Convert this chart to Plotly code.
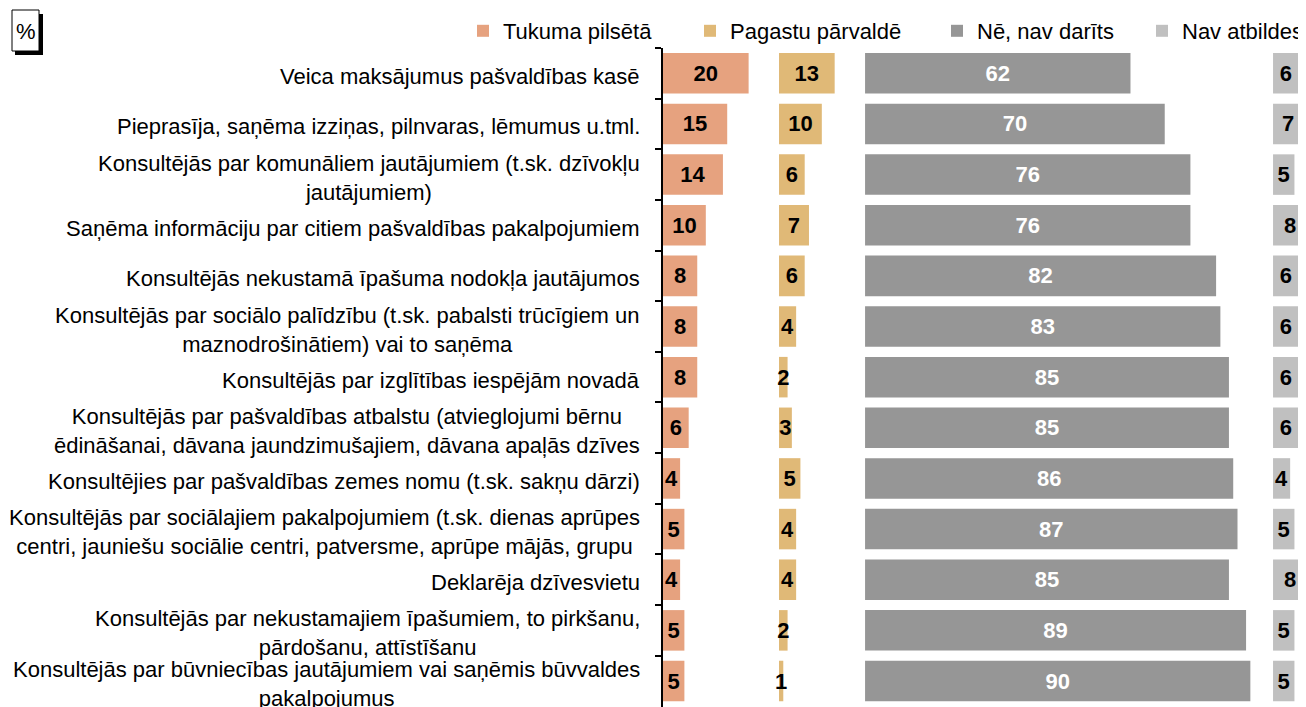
import plotly.graph_objects as go

# categories (top to bottom), text as shown in the source chart
labels = [
    "Veica maksājumus pašvaldības kasē",
    "Pieprasīja, saņēma izziņas, pilnvaras, lēmumus u.tml.",
    "Konsultējās par komunāliem jautājumiem (t.sk. dzīvokļu<br>jautājumiem)",
    "Saņēma informāciju par citiem pašvaldības pakalpojumiem",
    "Konsultējās nekustamā īpašuma nodokļa jautājumos",
    "Konsultējās par sociālo palīdzību (t.sk. pabalsti trūcīgiem un<br>maznodrošinātiem) vai to saņēma",
    "Konsultējās par izglītības iespējām novadā",
    "Konsultējās par pašvaldības atbalstu (atvieglojumi bērnu<br>ēdināšanai, dāvana jaundzimušajiem, dāvana apaļās dzīves",
    "Konsultējies par pašvaldības zemes nomu (t.sk. sakņu dārzi)",
    "Konsultējās par sociālajiem pakalpojumiem (t.sk. dienas aprūpes<br>centri, jauniešu sociālie centri, patversme, aprūpe mājās, grupu",
    "Deklarēja dzīvesvietu",
    "Konsultējās par nekustamajiem īpašumiem, to pirkšanu,<br>pārdošanu, attīstīšanu",
    "Konsultējās par būvniecības jautājumiem vai saņēmis būvvaldes<br>pakalpojumus",
]

series_names = ["Tukuma pilsētā", "Pagastu pārvaldē", "Nē, nav darīts", "Nav atbildes"]

tukuma = [20, 15, 14, 10, 8, 8, 8, 6, 4, 5, 4, 5, 5]
pagasti = [13, 10, 6, 7, 6, 4, 2, 3, 5, 4, 4, 2, 1]
ne_nav = [62, 70, 76, 76, 82, 83, 85, 85, 86, 87, 85, 89, 90]
nav_atb = [6, 7, 5, 8, 6, 6, 6, 6, 4, 5, 8, 5, 5]

# page has an 8px body margin, so the figure is drawn 8px smaller
OFF = 8
W, H = 1306 - OFF, 707 - OFF
L, T = 663 - OFF, 48 - OFF
panel_start = [0, 27.1, 47.2, 142.5]
x_max = 150.2
colors = ["#E6A27F", "#E0B977", "#969696", "#C0C0C0"]
text_colors = ["black", "black", "white", "black"]
legend_x = [463, 690, 937, 1142]   # window px of each legend box
FONT = "Liberation Sans, Arial, sans-serif"
FS = 22


def px_x(p):
    return (p - OFF - L) / (W - L)


def px_y(p):
    return 1 - (p - OFF - T) / (H - T)


fig = go.Figure()
legends = {}
for i, (name, vals, base, col, tcol) in enumerate(
        zip(series_names, [tukuma, pagasti, ne_nav, nav_atb],
            panel_start, colors, text_colors)):
    lg = "legend" if i == 0 else f"legend{i + 1}"
    fig.add_trace(go.Bar(
        y=labels, x=vals, base=base, name=name, orientation="h",
        marker=dict(color=col, line=dict(width=0)),
        text=vals, textposition="inside", insidetextanchor="middle",
        textangle=0, constraintext="none",
        textfont=dict(family=FONT, size=FS, color=tcol, weight="bold"),
        legend=lg,
    ))
    legends[lg] = dict(orientation="h", x=px_x(legend_x[i]), xanchor="left",
                       y=px_y(31), yanchor="middle", itemwidth=30,
                       font=dict(family=FONT, size=FS, color="black"),
                       bgcolor="rgba(0,0,0,0)")

# category labels, right aligned block with centred lines
for lab in labels:
    fig.add_annotation(
        x=0, xref="paper", y=lab, yref="y", text=lab, showarrow=False,
        xanchor="right", yanchor="middle", align="center",
        xshift=-21, yshift=-3,
        font=dict(family=FONT, size=FS, color="black"),
    )

# "%" box with shadow
fig.add_shape(type="rect", xref="paper", yref="paper",
              x0=px_x(15), x1=px_x(43), y0=px_y(55), y1=px_y(14),
              fillcolor="black", line=dict(width=0), layer="above")
fig.add_shape(type="rect", xref="paper", yref="paper",
              x0=px_x(12), x1=px_x(39), y0=px_y(51), y1=px_y(10),
              fillcolor="white", line=dict(color="black", width=1), layer="above")
fig.add_annotation(x=px_x(25.5), y=px_y(31), xref="paper", yref="paper",
                   text="%", showarrow=False, xanchor="center", yanchor="middle",
                   font=dict(family=FONT, size=FS, color="black"))

fig.update_layout(
    width=W, height=H,
    margin=dict(l=L, r=0, t=T, b=0, autoexpand=False),
    barmode="overlay", bargap=0.2,
    plot_bgcolor="white", paper_bgcolor="white",
    font=dict(family=FONT, size=FS, color="black"),
    showlegend=True,
    xaxis=dict(visible=False, range=[0, x_max], fixedrange=True),
    yaxis=dict(autorange="reversed", showticklabels=False, showgrid=False,
               zeroline=False, showline=True, linecolor="black", linewidth=1.5,
               ticks="outside", tickson="boundaries", ticklen=6,
               tickcolor="black", tickwidth=1.5),
    **legends,
)

fig.write_html("out.html")
